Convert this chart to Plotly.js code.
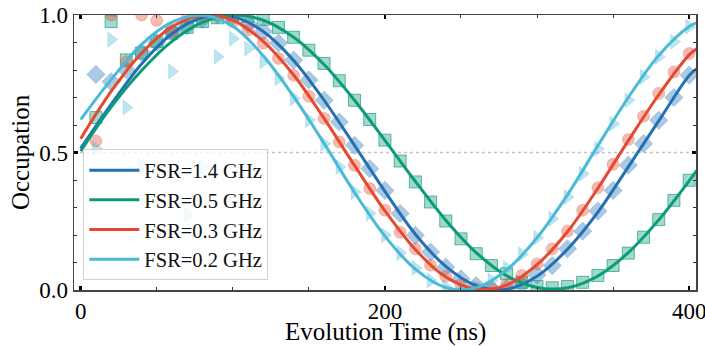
<!DOCTYPE html>
<html>
<head>
<meta charset="utf-8">
<script src="https://cdn.plot.ly/plotly-3.0.1.min.js"></script>
<style>html,body{margin:0;padding:0;background:#fff;}#chart{width:705px;height:346px;}</style>
</head>
<body>
<div id="chart"></div>
<script>
// Measured data (markers), evolution time in ns
const timeData = [10,20,30,40,50,60,70,80,90,100,110,120,130,140,150,160,170,180,190,200,
                  210,220,230,240,250,260,270,280,290,300,310,320,330,340,350,360,370,380,390,400];
const dataFSR14 = [0.784,0.757,0.80,0.865,0.90,0.94,0.96,0.985,1.0,0.995,0.967,0.94,0.898,0.836,0.764,0.69,0.611,0.526,0.441,0.362,
                   0.278,0.199,0.138,0.083,0.041,0.016,0.005,0.005,0.02,0.055,0.089,0.15,0.214,0.287,0.362,0.454,0.532,0.617,0.70,0.781];
const dataFSR05 = [0.627,0.976,0.837,0.862,0.904,0.934,0.955,0.976,0.99,1.0,0.995,0.984,0.955,0.919,0.872,0.824,0.761,0.690,0.620,0.545,
                   0.469,0.393,0.32,0.251,0.186,0.132,0.089,0.059,0.028,0.013,0.008,0.013,0.028,0.053,0.089,0.134,0.192,0.256,0.326,0.399];
const dataFSR03 = [0.542,1.0,0.83,1.0,0.98,0.94,0.99,1.0,1.0,0.975,0.945,0.897,0.842,0.781,0.705,0.624,0.538,0.454,0.369,0.29,
                   0.21,0.15,0.09,0.05,0.02,0.005,0.005,0.02,0.053,0.095,0.15,0.214,0.29,0.372,0.457,0.547,0.632,0.715,0.793,0.86];
const dataFSR02 = [0.515,0.911,0.664,0.453,null,0.795,0.271,0.447,0.848,0.914,0.877,0.831,0.770,0.697,0.618,0.532,0.447,0.356,0.278,0.199,
                   0.135,0.08,0.035,0.01,0.0,0.008,0.035,0.08,0.13,0.19,0.259,0.338,0.423,0.514,0.605,0.69,0.775,0.848,0.903,0.957];

// Fitted curves
const timeFit = [0,20,40,60,80,100,120,140,160,180,200,220,240,260,280,300,320,340,360,380,400,405];
const fitFSR14 = [0.515,0.675,0.822,0.932,0.991,0.994,0.94,0.835,0.69,0.526,0.359,0.203,0.086,0.016,0.003,0.05,0.148,0.283,0.448,0.615,0.78,0.805];
const fitFSR05 = [0.505,0.665,0.798,0.904,0.973,1.0,0.981,0.919,0.82,0.69,0.544,0.395,0.254,0.136,0.052,0.009,0.008,0.051,0.136,0.255,0.397,0.435];
const fitFSR03 = [0.55,0.722,0.861,0.957,0.999,0.981,0.904,0.782,0.624,0.453,0.288,0.147,0.047,0.003,0.018,0.092,0.212,0.37,0.543,0.71,0.855,0.877];
const fitFSR02 = [0.62,0.765,0.893,0.974,0.999,0.959,0.852,0.703,0.533,0.355,0.196,0.076,0.009,0.008,0.073,0.19,0.346,0.525,0.70,0.853,0.958,0.972];

const labels = ['FSR=1.4 GHz','FSR=0.5 GHz','FSR=0.3 GHz','FSR=0.2 GHz'];
const xTitle = 'Evolution Time (ns)';
const yTitle = 'Occupation';
const colors = ['#2371b3','#0c9b79','#e5492f','#4bbad6'];
const fills  = ['rgba(35,113,179,0.38)','rgba(12,155,121,0.38)','rgba(229,73,47,0.38)','rgba(75,186,214,0.38)'];
const edges  = ['rgba(35,113,179,0.25)','rgba(12,155,121,0.65)','rgba(229,73,47,0.25)','rgba(75,186,214,0.25)'];
const symbols = ['diamond','square','circle','triangle-right'];
const sizes = [14,12,12,13];
const dataSets = [dataFSR14, dataFSR05, dataFSR03, dataFSR02];
const fitSets = [fitFSR14, fitFSR05, fitFSR03, fitFSR02];

const traces = [];
for (let i = 0; i < 4; i++) {
  traces.push({
    x: timeData, y: dataSets[i], type: 'scatter', mode: 'markers', showlegend: false,
    marker: {symbol: symbols[i], size: sizes[i], color: fills[i], line: {color: edges[i], width: 1}},
    hoverinfo: 'skip'
  });
}
for (let i = 0; i < 4; i++) {
  traces.push({
    x: timeFit, y: fitSets[i], type: 'scatter', mode: 'lines', name: labels[i],
    line: {color: colors[i], width: 3, shape: 'spline', smoothing: 1}
  });
}

const F = 'Liberation Serif';
const layout = {
  width: 705, height: 346,
  margin: {l: 74, r: 9, t: 15, b: 56},
  paper_bgcolor: '#fff', plot_bgcolor: '#fff',
  font: {family: F, color: '#000'},
  showlegend: true,
  legend: {
    x: 0.015, y: 0.035, xanchor: 'left', yanchor: 'bottom',
    bgcolor: 'rgba(255,255,255,0.8)', bordercolor: '#d0d0d0', borderwidth: 1,
    itemwidth: 50, tracegroupgap: 0,
    font: {family: F, size: 20.5, color: '#111'}
  },
  xaxis: {
    range: [-4.4, 404.5], dtick: 200, tick0: 0,
    ticks: 'inside', ticklen: 4, tickwidth: 2.5, tickcolor: '#000',
    minor: {dtick: 50, tick0: 0, ticks: 'inside', ticklen: 3, tickwidth: 1, tickcolor: '#333'},
    showline: true, linecolor: '#444', linewidth: 1.5, mirror: 'allticks',
    showgrid: false, zeroline: false, ticklabeloverflow: 'allow',
    tickfont: {family: F, size: 23, color: '#000'}
  },
  yaxis: {
    range: [0, 1], dtick: 0.5, tick0: 0, tickformat: '.1f',
    ticks: 'inside', ticklen: 4, tickwidth: 2.5, tickcolor: '#000',
    minor: {dtick: 0.1, tick0: 0, ticks: 'inside', ticklen: 3, tickwidth: 1, tickcolor: '#333'},
    showline: true, linecolor: '#444', linewidth: 1.5, mirror: 'allticks',
    showgrid: false, zeroline: false, ticklabeloverflow: 'allow',
    tickfont: {family: F, size: 23, color: '#000'},
    title: {text: yTitle, font: {family: F, size: 25, color: '#000'}, standoff: 2}
  },
  annotations: [{
    text: xTitle, xref: 'paper', yref: 'paper', x: 0.5, y: -0.151,
    xanchor: 'center', yanchor: 'middle', showarrow: false,
    font: {family: F, size: 25, color: '#000'}
  }],
  shapes: [{
    type: 'line', xref: 'paper', yref: 'y', x0: 0, x1: 1, y0: 0.5, y1: 0.5,
    line: {color: '#c4c4c4', width: 1.5, dash: 'dot'}, layer: 'below'
  }]
};

Plotly.newPlot('chart', traces, layout, {displayModeBar: false, staticPlot: true});
</script>
</body>
</html>
